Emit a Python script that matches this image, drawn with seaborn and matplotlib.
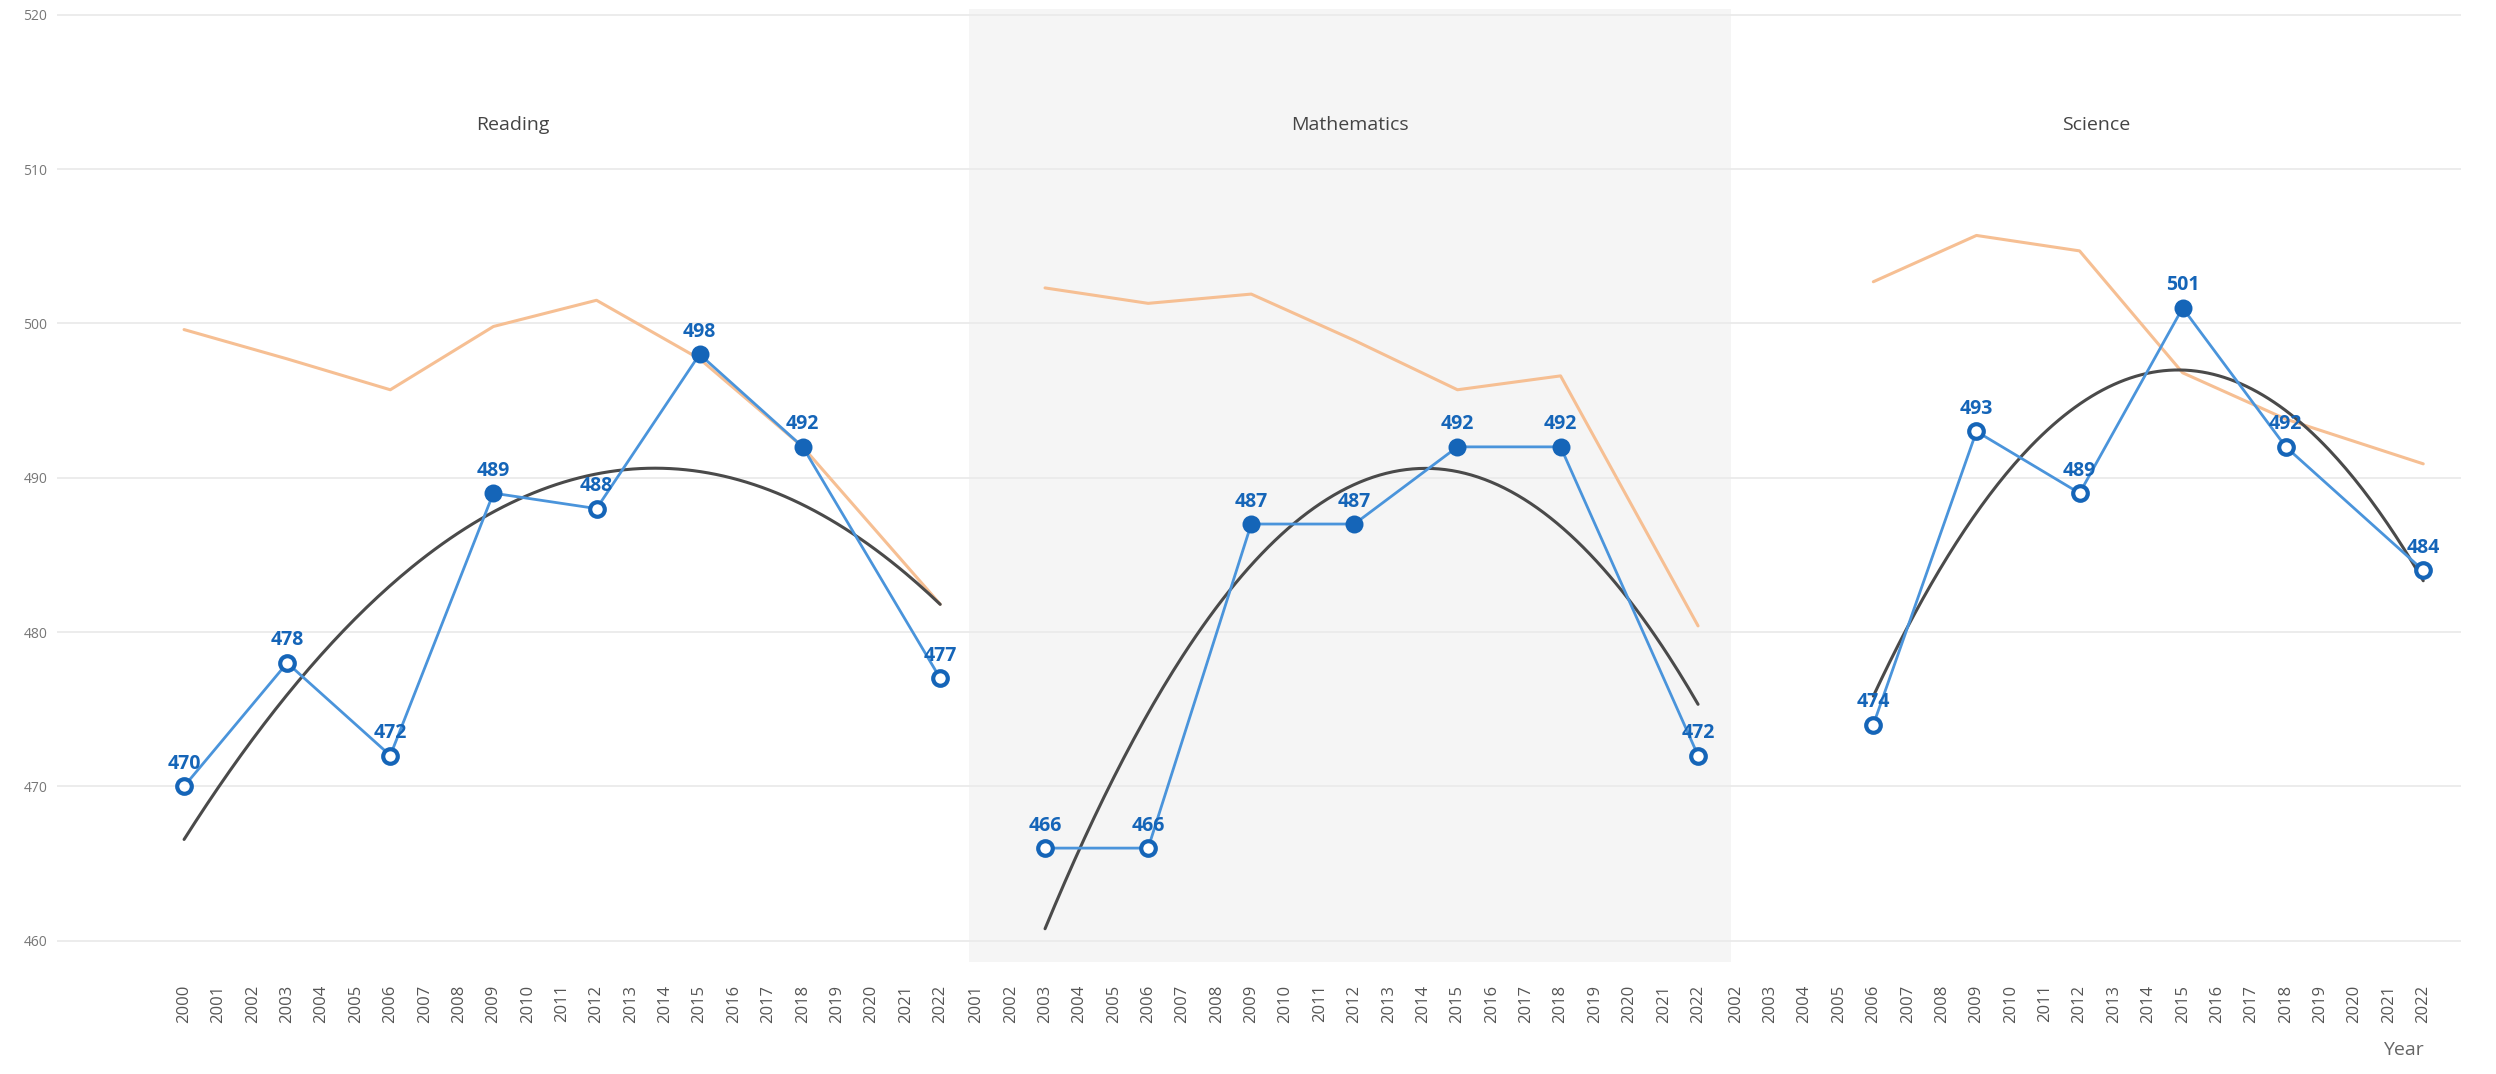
import numpy as np
import pandas as pd
import matplotlib
matplotlib.use("Agg")
import matplotlib.pyplot as plt
import seaborn as sns

# PISA scores per subject (blue), comparison line (orange)
subjects = ["Reading", "Mathematics", "Science"]

reading_years = [2000, 2003, 2006, 2009, 2012, 2015, 2018, 2022]
reading_scores = [470, 478, 472, 489, 488, 498, 492, 477]
reading_filled = [False, False, False, True, False, True, True, False]
reading_ref = [499.6, 497.7, 495.7, 499.8, 501.5, 497.7, 492.0, 481.8]

math_years = [2003, 2006, 2009, 2012, 2015, 2018, 2022]
math_scores = [466, 466, 487, 487, 492, 492, 472]
math_filled = [False, False, True, True, True, True, False]
math_ref = [502.3, 501.3, 501.9, 498.9, 495.7, 496.6, 480.4]

science_years = [2006, 2009, 2012, 2015, 2018, 2022]
science_scores = [474, 493, 489, 501, 492, 484]
science_filled = [False, False, False, True, False, False]
science_ref = [502.7, 505.7, 504.7, 496.8, 493.8, 490.9]

tick_years = [list(range(2000, 2023)), list(range(2001, 2023)), list(range(2002, 2023))]
y_ticks = [460, 470, 480, 490, 500, 510, 520]

# layout of the three small multiples
x_limits = [(1996.3, 2022.85), (2000.8, 2022.95), (2001.85, 2023.1)]
panel_bg = ["white", "#f5f5f5", "white"]

blue_line = "#4a94db"
blue_dot = "#1565b8"
orange = "#f6bf93"
trend_col = "#4a4a4a"

sns.set_style("white")
plt.rcParams["font.family"] = ["Open Sans", "DejaVu Sans"]

panels = [
    (reading_years, reading_scores, reading_filled, reading_ref),
    (math_years, math_scores, math_filled, math_ref),
    (science_years, science_scores, science_filled, science_ref),
]

fig = plt.figure(figsize=(24.96, 10.74), dpi=100)
widths = [hi - lo for lo, hi in x_limits]
gs = fig.add_gridspec(1, 3, width_ratios=widths, wspace=0,
                      left=0.0228, right=0.986, top=0.992, bottom=0.104)

for i, (years, scores, filled, ref) in enumerate(panels):
    ax = fig.add_subplot(gs[0, i])
    ax.set_facecolor(panel_bg[i])
    df = pd.DataFrame({"Year": years, "Score": scores, "Ref": ref, "Filled": filled})

    # comparison line
    sns.lineplot(data=df, x="Year", y="Ref", color=orange, lw=2.2, ax=ax, zorder=2)

    # polynomial trend of the scores
    coef = np.polyfit(df["Year"], df["Score"], 2)
    xs = np.linspace(years[0], years[-1], 200)
    sns.lineplot(x=xs, y=np.polyval(coef, xs), color=trend_col, lw=2.2, ax=ax, zorder=3)

    sns.lineplot(data=df, x="Year", y="Score", color=blue_line, lw=2.0, ax=ax, zorder=4)
    sns.scatterplot(data=df[df["Filled"]], x="Year", y="Score", color=blue_dot,
                    edgecolor=blue_dot, s=120, linewidth=2, ax=ax, zorder=5)
    sns.scatterplot(data=df[~df["Filled"]], x="Year", y="Score", color="white",
                    edgecolor=blue_dot, s=110, linewidth=3, ax=ax, zorder=5)

    for yr, sc in zip(years, scores):
        ax.annotate(f"{sc}", (yr, sc), xytext=(0, 9), textcoords="offset points",
                    ha="center", va="bottom", fontsize=14, fontweight="bold",
                    color=blue_dot, zorder=6)

    ax.text(0.5, 0.878, subjects[i], transform=ax.transAxes, ha="center",
            va="center", fontsize=14, color="#444444")

    ax.set_xlim(*x_limits[i])
    ax.set_ylim(458.6, 520.4)
    ax.set_xticks(tick_years[i])
    ax.set_xticklabels([str(t) for t in tick_years[i]], rotation=90,
                       fontsize=12, color="#555555")
    ax.set_yticks(y_ticks)
    ax.grid(axis="y", color="#ebebeb", lw=1.3)
    ax.set_axisbelow(True)
    ax.tick_params(axis="x", length=0, pad=16)
    ax.tick_params(axis="y", length=0, pad=7, labelsize=10, labelcolor="#777777")
    if i > 0:
        ax.tick_params(axis="y", labelleft=False)
    ax.set_xlabel("")
    ax.set_ylabel("")
    for s in ax.spines.values():
        s.set_visible(False)

fig.text(0.963, 0.022, "Year", ha="center", va="center", fontsize=14, color="#666666")

fig.savefig("out.png", dpi=100)
